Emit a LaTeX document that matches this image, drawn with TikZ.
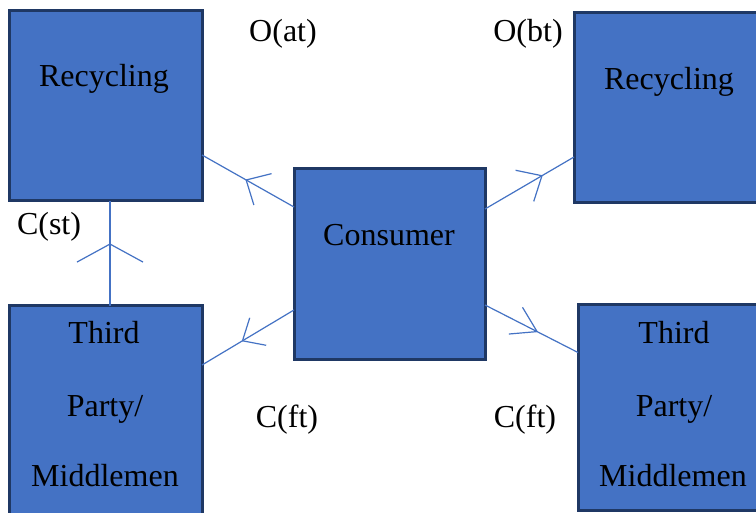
\documentclass[tikz,border=0pt]{standalone}
\usepackage{fontspec}
\setmainfont{Liberation Serif}
\usetikzlibrary{decorations.markings}
\definecolor{boxfill}{HTML}{4472C4}
\definecolor{boxline}{HTML}{1F3864}
\definecolor{linkblue}{HTML}{4472C4}
\tikzset{
  block/.style={draw=boxline, line width=3pt, fill=boxfill, inner sep=0pt, outer sep=0pt},
  lbl/.style={font=\fontsize{32}{38}\selectfont, anchor=base, inner sep=0pt},
  link/.style={draw=linkblue, line width=1.2pt},
  % open chevron in the middle of a connector: position, depth, half-spread
  chevron/.style n args={3}{postaction={decorate},
    decoration={markings, mark=at position #1 with {
      \draw[link, line join=miter] (-#2pt,#3pt) -- (0pt,0pt) -- (-#2pt,-#3pt);}}}
}
\begin{document}
\begin{tikzpicture}[x=1pt, y=-1pt]
  \fill[white] (0,0) rectangle (756,513);
  \useasboundingbox (0,0) rectangle (756,513);

  % boxes
  \node[block, minimum width=193pt, minimum height=190pt] (tl)   at (105.5,106) {};
  \node[block, minimum width=186pt, minimum height=190pt] (tr)   at (667,108) {};
  \node[block, minimum width=191pt, minimum height=191pt] (cons) at (389.5,264.5) {};
  \node[block, minimum width=193pt, minimum height=219pt] (bl)   at (105.5,415.5) {};
  \node[block, minimum width=184pt, minimum height=205pt] (br)   at (670,407.5) {};

  % box texts
  \node[lbl] (tlText) at (104,87) {Recycling};
  \node[lbl] (trText) at (669,90) {Recycling};
  \node[lbl] (consText) at (389,246) {Consumer};
  \node[lbl] (blA) at (104,344) {Third};
  \node[lbl] (blB) at (105,417) {Party/};
  \node[lbl] (blC) at (105,486) {Middlemen};
  \node[lbl] (brA) at (674,344) {Third};
  \node[lbl] (brB) at (674,417) {Party/};
  \node[lbl] (brC) at (673,486) {Middlemen};

  % flow labels
  \node[lbl] (oat) at (283,42) {O(at)};
  \node[lbl] (obt) at (528,42) {O(bt)};
  \node[lbl] (cst) at (49,235) {C(st)};
  \node[lbl] (cftL) at (287,428) {C(ft)};
  \node[lbl] (cftR) at (525,428) {C(ft)};

  % connectors
  \draw[link, chevron={0.52}{19}{18}] ([yshift=57.5pt]cons.west) -- ([yshift=-49pt]tl.east);
  \draw[link, chevron={0.64}{20}{18}] ([yshift=55.5pt]cons.east) -- ([yshift=-49pt]tr.west);
  \draw[link, chevron={0.56}{18}{16}] ([yshift=-45.5pt]cons.west) -- ([yshift=50.5pt]bl.east);
  \draw[link, chevron={0.56}{24}{15}] ([yshift=-40.5pt]cons.east) -- ([yshift=55pt]br.west);
  \draw[link, chevron={0.59}{18}{33}] ([xshift=4.5pt]bl.north) -- ([xshift=4.5pt]tl.south);
\end{tikzpicture}
\end{document}
